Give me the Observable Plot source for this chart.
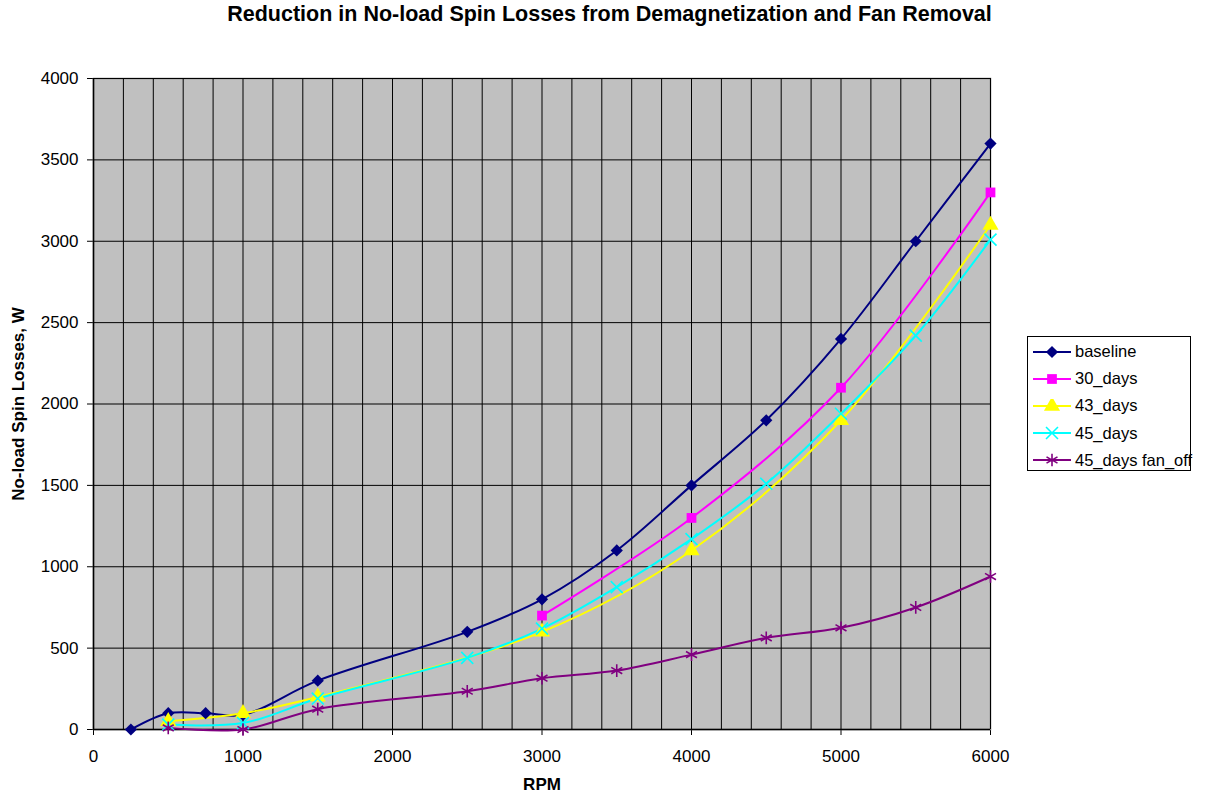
<!DOCTYPE html>
<html>
<head>
<meta charset="utf-8">
<script src="https://cdn.jsdelivr.net/npm/d3@7"></script>
<script src="https://cdn.jsdelivr.net/npm/@observablehq/plot@0.6"></script>
<style>
  html, body { margin: 0; padding: 0; background: #fff; }
  #chart { position: relative; width: 1219px; height: 798px; font-family: "Liberation Sans", Arial, sans-serif; }
  #title { position: absolute; left: 0; top: 2px; width: 1219px; text-align: center; font-weight: bold; font-size: 21.5px; }
  #legend { position: absolute; left: 1027px; top: 336px; width: 164px; height: 135px; box-sizing: border-box;
            border: 1px solid #000; background: #fff; padding-top: 1px; }
  .entry { display: flex; align-items: center; height: 27.2px; font-size: 16.5px; white-space: nowrap; }
  .entry svg { margin-left: 5px; margin-right: 4px; flex: none; }
</style>
</head>
<body>
<div id="chart">
  <div id="title">Reduction in No-load Spin Losses from Demagnetization and Fan Removal</div>
  <div id="legend"></div>
</div>
<script>
// Measured no-load spin losses (W) against shaft speed (RPM)
const baselineRpm = [250, 500, 750, 1000, 1500, 2500, 3000, 3500, 4000, 4500, 5000, 5500, 6000];
const baselineW   = [0, 100, 100, 90, 300, 600, 800, 1100, 1500, 1900, 2400, 3000, 3600];

const days30Rpm = [3000, 4000, 5000, 6000];
const days30W   = [700, 1300, 2100, 3300];

const days43Rpm = [500, 1000, 1500, 3000, 4000, 5000, 6000];
const days43W   = [50, 100, 200, 600, 1100, 1900, 3100];

const days45Rpm = [500, 1000, 1500, 2500, 3000, 3500, 4000, 4500, 5000, 5500, 6000];
const days45W   = [30, 40, 190, 440, 620, 875, 1170, 1510, 1940, 2420, 3010];

const fanOffRpm = [500, 1000, 1500, 2500, 3000, 3500, 4000, 4500, 5000, 5500, 6000];
const fanOffW   = [10, 0, 125, 235, 315, 362, 460, 563, 625, 750, 940];

// Axis ticks and grid spacing
const xTicks = [0, 1000, 2000, 3000, 4000, 5000, 6000];
const yTicks = [0, 500, 1000, 1500, 2000, 2500, 3000, 3500, 4000];
const xGrid = d3.range(0, 6001, 200);

const series = [
  {name: "baseline",         rpm: baselineRpm, watts: baselineW, color: "#000080", symbol: "diamond2", type: d3.symbolDiamond2, filled: true,  r: 5.5},
  {name: "30_days",          rpm: days30Rpm,   watts: days30W,   color: "#FF00FF", symbol: "square",   type: d3.symbolSquare,   filled: true,  r: 5.5},
  {name: "43_days",          rpm: days43Rpm,   watts: days43W,   color: "#FFFF00", symbol: "triangle", type: d3.symbolTriangle, filled: true,  r: 6},
  {name: "45_days",          rpm: days45Rpm,   watts: days45W,   color: "#00FFFF", symbol: "times",    type: d3.symbolTimes,    filled: false, r: 5.5},
  {name: "45_days fan_off",  rpm: fanOffRpm,   watts: fanOffW,   color: "#800080", symbol: "asterisk", type: d3.symbolAsterisk, filled: false, r: 6}
];

const rowsOf = s => s.rpm.map((rpm, i) => ({series: s.name, rpm, watts: s.watts[i]}));

const marks = [
  Plot.frame({fill: "#C0C0C0", stroke: "#808080", strokeWidth: 1.5}),
  Plot.ruleX(xGrid, {stroke: "#000", strokeWidth: 1}),
  Plot.ruleY(yTicks, {stroke: "#000", strokeWidth: 1}),
  Plot.ruleX([0], {stroke: "#000", strokeWidth: 1.5}),
  Plot.ruleY([0], {stroke: "#000", strokeWidth: 1.5})
];

for (const s of series) {
  marks.push(Plot.line(rowsOf(s), {x: "rpm", y: "watts", stroke: s.color, strokeWidth: 2, curve: "catmull-rom"}));
}
for (const s of series) {
  marks.push(Plot.dot(rowsOf(s), s.filled
    ? {x: "rpm", y: "watts", symbol: () => s.symbol, r: s.r, fill: s.color, stroke: "none"}
    : {x: "rpm", y: "watts", symbol: () => s.symbol, r: s.r, fill: "none", stroke: s.color, strokeWidth: 1.6}));
}

marks.push(
  Plot.text(["RPM"], {frameAnchor: "bottom", dy: 60, fontWeight: "bold", fontSize: 17}),
  Plot.text(["No-load Spin Losses, W"], {frameAnchor: "left", dx: -75, rotate: -90, textAnchor: "middle", fontWeight: "bold", fontSize: 17})
);

const chart = Plot.plot({
  width: 1219,
  height: 798,
  marginLeft: 93,
  marginRight: 229,
  marginTop: 78,
  marginBottom: 69,
  x: {domain: [0, 6000], ticks: xTicks, tickSize: 6, tickPadding: 14, tickFormat: d3.format("d"), label: null},
  y: {domain: [0, 4000], ticks: yTicks, tickSize: 6, tickPadding: 9, tickFormat: d3.format("d"), label: null},
  symbol: {type: "identity"},
  style: {fontFamily: "'Liberation Sans', Arial, sans-serif", fontSize: "17px", color: "#000", background: "transparent", overflow: "visible"},
  marks
});
document.getElementById("chart").prepend(chart);

// Legend built from the same series styles
const legend = d3.select("#legend");
for (const s of series) {
  const row = legend.append("div").attr("class", "entry");
  const svg = row.append("svg").attr("width", 38).attr("height", 14);
  svg.append("line").attr("x1", 0).attr("x2", 38).attr("y1", 7).attr("y2", 7)
    .attr("stroke", s.color).attr("stroke-width", 2);
  svg.append("path").attr("transform", "translate(19,7)")
    .attr("d", d3.symbol(s.type, Math.PI * s.r * s.r)())
    .attr("fill", s.filled ? s.color : "none")
    .attr("stroke", s.filled ? "none" : s.color)
    .attr("stroke-width", 1.6);
  row.append("span").text(s.name);
}
</script>
</body>
</html>
